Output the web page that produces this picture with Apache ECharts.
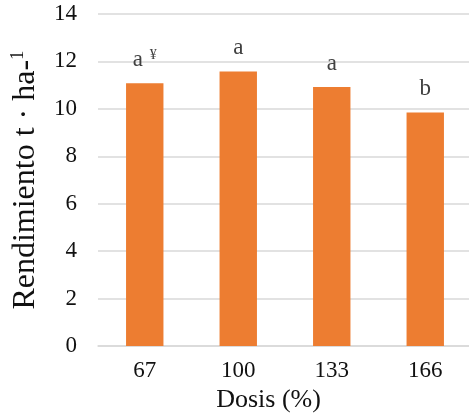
<!DOCTYPE html>
<html>
<head>
<meta charset="utf-8">
<script src="https://cdn.jsdelivr.net/npm/echarts@6/dist/echarts.min.js"></script>
<style>html,body{margin:0;padding:0;background:#fff}#c{width:469px;height:413px}</style>
</head>
<body>
<div id="c"></div>
<script>
var categories = ['67', '100', '133', '166'];
var yieldValues = [11.08, 11.58, 10.92, 9.85];
var letters = ['a', 'a', 'a', 'b'];
var marks = ['¥', '', '', ''];
var yTicks = [0, 2, 4, 6, 8, 10, 12, 14];

var FONT = "'Liberation Serif','Times New Roman',serif";
var chart = echarts.init(document.getElementById('c'), null, {renderer: 'canvas'});
chart.setOption({
  animation: false,
  grid: {left: 98, right: -3, top: 14, bottom: 67, containLabel: false, outerBoundsMode: 'none'},
  xAxis: {
    type: 'category',
    data: categories,
    axisLine: {show: true, lineStyle: {color: '#d9d9d9', width: 1.5}},
    axisTick: {show: false},
    axisLabel: {color: '#111', fontFamily: FONT, fontSize: 23, margin: 13},
    name: 'Dosis (%)',
    nameLocation: 'middle',
    nameGap: 34,
    nameTextStyle: {color: '#111', fontFamily: FONT, fontSize: 26, padding: [0, 33, 0, 0]}
  },
  yAxis: {
    type: 'value',
    min: yTicks[0],
    max: yTicks[yTicks.length - 1],
    interval: 2,
    axisLine: {show: false},
    axisTick: {show: false},
    splitLine: {lineStyle: {color: '#d9d9d9', width: 1.5}},
    axisLabel: {color: '#111', fontFamily: FONT, fontSize: 23, margin: 21},
    name: '{m|Rendimiento t · ha-}{s|1}',
    nameLocation: 'middle',
    nameGap: 56,
    nameTextStyle: {
      rich: {
        m: {color: '#111', fontFamily: FONT, fontSize: 32},
        s: {color: '#111', fontFamily: FONT, fontSize: 19, padding: [0, 0, 14, 0]}
      }
    }
  },
  series: [{
    type: 'bar',
    data: yieldValues,
    barWidth: '40%',
    itemStyle: {color: '#ED7D31'},
    label: {
      show: true,
      position: 'top',
      distance: 12,
      formatter: function (p) {
        var m = marks[p.dataIndex];
        return '{a|' + letters[p.dataIndex] + '}' + (m ? '{s|' + m + '}' : '');
      },
      rich: {
        a: {color: '#404040', fontFamily: FONT, fontSize: 23},
        s: {color: '#404040', fontFamily: FONT, fontSize: 14, padding: [0, 0, 9, 7]}
      }
    }
  }]
});
</script>
</body>
</html>
